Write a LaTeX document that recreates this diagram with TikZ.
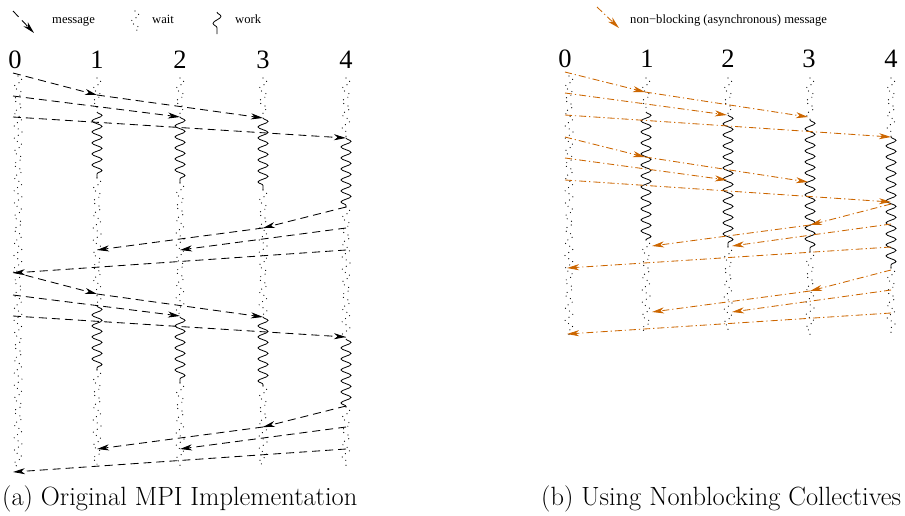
\documentclass[tikz,border=0pt]{standalone}
\usepackage{fontspec}
\newfontfamily\tnr{Liberation Serif}
\usetikzlibrary{decorations.pathmorphing,arrows.meta}
\definecolor{nbc}{RGB}{204,102,0}
\begin{document}
\begin{tikzpicture}[x=1pt,y=-1pt,
  msg/.style={draw=black, line width=0.85pt, dash pattern=on 8pt off 5pt, -{Stealth[length=12pt,width=6pt,inset=3.5pt]}},
  nbmsg/.style={draw=nbc, line width=0.85pt, dash pattern=on 7pt off 3pt on 1.2pt off 3pt, -{Stealth[length=12pt,width=6pt,inset=3.5pt]}},
  workline/.style={draw, line width=0.8pt, decorate, decoration={snake, segment length=11pt, amplitude=5pt}},
  waitline/.style={draw, line width=1.2pt, line cap=round, dash pattern=on 0pt off 5pt, decorate, decoration={snake, segment length=13pt, amplitude=4pt}},
  proc/.style={font=\tnr\fontsize{26.5}{30}\selectfont, anchor=base, inner sep=0pt},
  legtext/.style={font=\tnr\fontsize{12.6}{15}\selectfont, anchor=base west, inner sep=0pt},
  captext/.style={font=\fontsize{26.4}{30}\selectfont, anchor=base west, inner sep=0pt}]
\useasboundingbox (0,0) rectangle (905,515);

% ---------- legend (a)
\coordinate (lgA1) at (13,11);
\coordinate (lgA2) at (34,33);
\draw[msg] (lgA1) -- (lgA2);
\node[legtext] (lgAt) at (52,23) {message};
\draw[waitline] (135,11) -- (135,34);
\node[legtext] (lgBt) at (152,23) {wait};
\draw[workline, decoration={snake, segment length=14pt, amplitude=4pt}] (217,12) -- (217,34);
\node[legtext] (lgCt) at (235,23) {work};

% ---------- legend (b)
\coordinate (lgD1) at (597,7);
\coordinate (lgD2) at (619,28);
\draw[nbmsg] (lgD1) -- (lgD2);
\node[legtext] (lgDt) at (630,23) {non\textminus blocking (asynchronous) message};

% ---------- process labels
\foreach \i/\x in {0/15,1/97,2/180,3/263,4/346} \node[proc] (pa\i) at (\x,68) {\i};
\foreach \i/\x in {0/565,1/647,2/728,3/809,4/891} \node[proc] (pb\i) at (\x,67) {\i};

% ---------- panel (a): wait and work
\foreach \x/\ya/\yb in {18/76/470, 97/78/112, 97/178/306, 97/370/466,
  180/78/117, 180/183/317, 180/383/466, 263/78/118, 263/190/317, 263/386/466,
  346/78/138, 346/207/339, 346/407/466}
  \draw[waitline] (\x,\ya) -- (\x,\yb);
\foreach \x/\ya/\yb in {97/112/178, 97/306/370, 180/117/183, 180/317/383,
  263/118/190, 263/317/386, 346/138/207, 346/339/407}
  \draw[workline] (\x,\ya) -- (\x,\yb);

% ---------- panel (a): messages
\foreach \r/\dy in {1/0, 2/199} {
  \coordinate (a\r P0a) at (13,{73+\dy});
  \coordinate (a\r P1a) at (97,{95+\dy});
  \coordinate (a\r P0b) at (13,{96+\dy});
  \coordinate (a\r P2a) at (180,{117+\dy});
  \coordinate (a\r P3a) at (263,{118+\dy});
  \coordinate (a\r P0c) at (13,{117+\dy});
  \coordinate (a\r P4a) at (346,{138+\dy});
  \coordinate (a\r P4b) at (346,{207+\dy});
  \coordinate (a\r P3b) at (263,{228+\dy});
  \coordinate (a\r P4c) at (346,{228+\dy});
  \coordinate (a\r P2b) at (180,{250+\dy});
  \coordinate (a\r P1b) at (97,{250+\dy});
  \coordinate (a\r P4d) at (346,{250+\dy});
  \coordinate (a\r P0d) at (13,{273+\dy});
  \draw[msg] (a\r P0a) -- (a\r P1a);
  \draw[msg] (a\r P0b) -- (a\r P2a);
  \draw[msg] (a\r P1a) -- (a\r P3a);
  \draw[msg] (a\r P0c) -- (a\r P4a);
  \draw[msg] (a\r P4b) -- (a\r P3b);
  \draw[msg] (a\r P4c) -- (a\r P2b);
  \draw[msg] (a\r P3b) -- (a\r P1b);
  \draw[msg] (a\r P4d) -- (a\r P0d);
}

% ---------- panel (b): wait and work
\foreach \x/\ya/\yb in {569/76/335, 646/78/112, 646/240/333, 728/78/115, 728/247/333,
  810/78/120, 810/252/335, 891/78/137, 891/268/333}
  \draw[waitline] (\x,\ya) -- (\x,\yb);
\foreach \x/\ya/\yb in {646/112/240, 728/115/247, 810/120/252, 891/137/268}
  \draw[workline] (\x,\ya) -- (\x,\yb);

% ---------- panel (b): messages
\foreach \r/\dy in {1/0, 2/65} {
  \coordinate (b\r P0a) at (565,{72+\dy});
  \coordinate (b\r P1a) at (645,{92+\dy});
  \coordinate (b\r P0b) at (565,{93+\dy});
  \coordinate (b\r P2a) at (727,{115+\dy});
  \coordinate (b\r P3a) at (808,{117+\dy});
  \coordinate (b\r P0c) at (565,{115+\dy});
  \coordinate (b\r P4a) at (891,{137+\dy});
  \draw[nbmsg] (b\r P0a) -- (b\r P1a);
  \draw[nbmsg] (b\r P0b) -- (b\r P2a);
  \draw[nbmsg] (b\r P1a) -- (b\r P3a);
  \draw[nbmsg] (b\r P0c) -- (b\r P4a);
}
\foreach \r/\dy in {1/0, 2/66} {
  \coordinate (b\r P4b) at (891,{204+\dy});
  \coordinate (b\r P3b) at (810,{225+\dy});
  \coordinate (b\r P4c) at (891,{224+\dy});
  \coordinate (b\r P2b) at (732,{246+\dy});
  \coordinate (b\r P1b) at (652,{246+\dy});
  \coordinate (b\r P4d) at (891,{247+\dy});
  \coordinate (b\r P0d) at (567,{268+\dy});
  \draw[nbmsg] (b\r P4b) -- (b\r P3b);
  \draw[nbmsg] (b\r P4c) -- (b\r P2b);
  \draw[nbmsg] (b\r P3b) -- (b\r P1b);
  \draw[nbmsg] (b\r P4d) -- (b\r P0d);
}

% ---------- captions
\node[captext] (capa) at (2,505) {(a) Original MPI Implementation};
\node[captext] (capb) at (541,505) {(b) Using Nonblocking Collectives};
\end{tikzpicture}
\end{document}
